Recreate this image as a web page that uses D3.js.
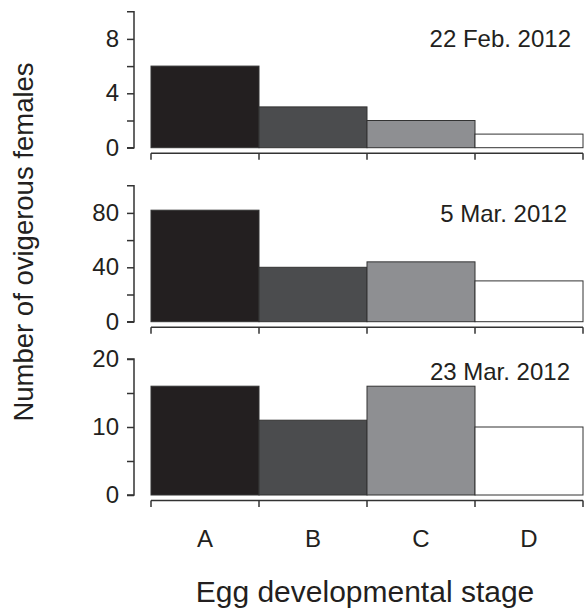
<!DOCTYPE html>
<html><head><meta charset="utf-8">
<script src="https://cdn.jsdelivr.net/npm/d3@7"></script>
<style>html,body{margin:0;padding:0;background:#fff;}svg{display:block;}text{font-family:"Liberation Sans",Arial,Helvetica,sans-serif;fill:#231f20;}</style>
</head><body>
<script>
const stages = ["A", "B", "C", "D"];
const dates = ["22 Feb. 2012", "5 Mar. 2012", "23 Mar. 2012"];
const feb22 = [6, 3, 2, 1];
const mar5 = [82, 40, 44, 30];
const mar23 = [16, 11, 16, 10];
const yMax = [10, 100, 20];
const yTicks = [[0, 4, 8], [0, 40, 80], [0, 10, 20]];
const yMinor = [[2, 6], [20, 60], [5, 15]];
const colors = ["#231f20", "#4b4c4e", "#8e8f92", "#ffffff"];
const xTitle = "Egg developmental stage";
const yTitle = "Number of ovigerous females";

const series = [feb22, mar5, mar23];
const W = 588, H = 610;
const svg = d3.select("body").append("svg").attr("width", W).attr("height", H);

const x = d3.scaleBand().domain(stages).range([151, 583]).padding(0);
const panelBottoms = [147.7, 321.7, 495];
const panelH = 136;
const axisColor = "#333";

series.forEach((vals, i) => {
  const y0 = panelBottoms[i];
  const y = d3.scaleLinear().domain([0, yMax[i]]).range([y0, y0 - panelH]);
  const g = svg.append("g");
  g.selectAll("rect").data(vals).join("rect")
    .attr("x", (d, j) => x(stages[j]))
    .attr("width", x.bandwidth())
    .attr("y", d => y(d))
    .attr("height", d => y(0) - y(d))
    .attr("fill", (d, j) => colors[j])
    .attr("stroke", "#333").attr("stroke-width", 1);
  const ya = g.append("g").attr("transform", "translate(134,0)")
    .call(d3.axisLeft(y).tickValues(yTicks[i]).tickSize(7).tickPadding(8));
  ya.select(".domain").attr("d", `M-7,${y(yMax[i])}H0V${y(0)}H-7`);
  const ym = g.append("g").attr("transform", "translate(134,0)")
    .call(d3.axisLeft(y).tickValues(yMinor[i]).tickSize(7).tickFormat(""));
  ym.select(".domain").remove();
  const xa = g.append("g").attr("transform", `translate(0,${y0 + 5.5})`)
    .call(d3.axisBottom(x).tickValues([]).tickSizeOuter(0));
  xa.select(".domain").attr("d", null);
  const edges = stages.map(s => x(s)).concat([x.range()[1]]);
  xa.append("path").attr("fill", "none").attr("stroke", axisColor).attr("stroke-width", 1.5)
    .attr("d", `M${edges[0]},0H${edges[edges.length - 1]}`);
  xa.selectAll("line.edge").data(edges).join("line").attr("class", "edge")
    .attr("x1", d => d).attr("x2", d => d).attr("y1", 0).attr("y2", 6.5)
    .attr("stroke", axisColor).attr("stroke-width", 1.5);
  if (i === series.length - 1) {
    xa.selectAll("text.lab").data(stages).join("text").attr("class", "lab")
      .attr("x", d => x(d) + x.bandwidth() / 2).attr("y", 46)
      .attr("text-anchor", "middle").attr("font-size", 24).text(d => d);
  }
  [ya, ym].forEach(a => {
    a.selectAll(".domain").attr("stroke", axisColor).attr("stroke-width", 1.5);
    a.selectAll(".tick line").attr("stroke", axisColor).attr("stroke-width", 1.5);
    a.selectAll(".tick text").attr("font-size", 24).attr("font-family", "Liberation Sans, Arial, sans-serif").attr("fill", "#231f20");
  });
  g.append("text").attr("x", [571, 567, 570][i]).attr("y", [46.6, 221.6, 380][i])
    .attr("text-anchor", "end").attr("font-size", 24).text(dates[i]);
});

svg.append("text").attr("x", 365).attr("y", 602).attr("text-anchor", "middle")
  .attr("font-size", 30).text(xTitle);
svg.append("text").attr("transform", "translate(33,242) rotate(-90)")
  .attr("text-anchor", "middle").attr("font-size", 27.5).text(yTitle);
</script>
</body></html>
